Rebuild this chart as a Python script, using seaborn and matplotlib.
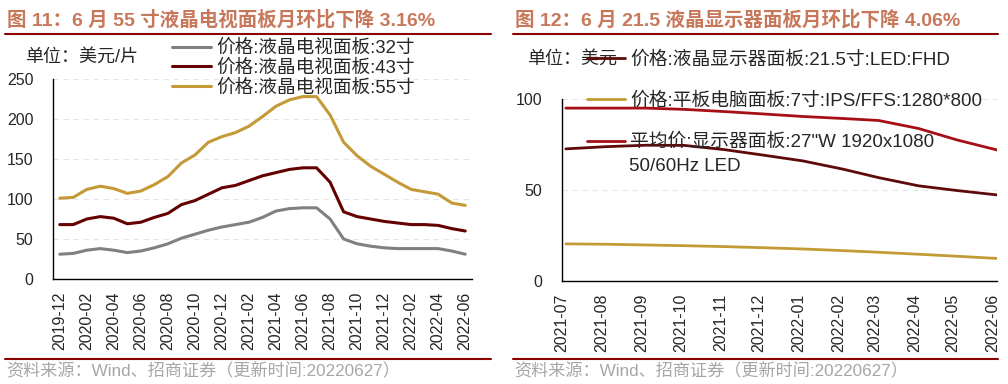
import numpy as np
import pandas as pd
import matplotlib
matplotlib.use('Agg')
import matplotlib.pyplot as plt
import matplotlib.dates as mdates
from matplotlib.lines import Line2D
import seaborn as sns

# ----------------------------
# Data: TV panels (USD / pc), monthly 2019-12 .. 2022-06
# ----------------------------
tv_months = pd.period_range('2019-12', '2022-06', freq='M').strftime('%Y-%m').tolist()
tv_32 = [31, 32, 36, 38, 36, 33, 35, 39, 44, 51, 56, 61, 65, 68, 71, 77,
         85, 88, 89, 89, 75, 50, 44, 41, 39, 38, 38, 38, 38, 35, 31]
tv_43 = [68, 68, 75, 78, 76, 69, 71, 77, 82, 93, 98, 106, 114, 117, 123, 129,
         133, 137, 139, 139, 121, 84, 78, 75, 72, 70, 68, 68, 67, 63, 60]
tv_55 = [101, 102, 112, 116, 113, 107, 110, 118, 128, 145, 155, 171, 178, 183, 191, 203,
         216, 224, 228, 228, 205, 171, 154, 141, 131, 121, 112, 109, 106, 95, 92]
tv_labels = ['价格:液晶电视面板:32寸', '价格:液晶电视面板:43寸', '价格:液晶电视面板:55寸']

# ----------------------------
# Data: monitor / tablet panels (USD / pc), 2021-07 .. 2022-06
# ----------------------------
mon_dates = ['2021-07-04', '2021-08-04', '2021-09-04', '2021-10-04', '2021-11-04', '2021-12-04',
             '2022-01-04', '2022-02-04', '2022-03-04', '2022-04-04', '2022-05-04', '2022-06-04']
mon_215 = [72.6, 73.8, 74.6, 74.5, 72.2, 69.2, 66.0, 61.5, 56.8, 52.3, 49.7, 47.3]
tab_7 = [20.4, 20.2, 19.8, 19.4, 18.9, 18.3, 17.6, 16.7, 15.8, 14.7, 13.6, 12.4]
mon_27 = [95.0, 95.0, 95.0, 94.3, 93.1, 91.8, 90.4, 89.3, 88.2, 83.8, 77.5, 72.0]
mon_labels = ['价格:液晶显示器面板:21.5寸:LED:FHD',
              '价格:平板电脑面板:7寸:IPS/FFS:1280*800',
              '平均价:显示器面板:27"W 1920x1080']

# ----------------------------
# Style
# ----------------------------
sns.set_style('white')
plt.rcParams['font.family'] = ['Liberation Sans', 'Noto Sans CJK SC']
plt.rcParams['axes.unicode_minus'] = False

TITLE_C = '#C8785A'
RULE_C = '#8B0000'
GRID_C = '#E6E6E6'

W, H = 1008, 384
fig = plt.figure(figsize=(W / 100, H / 100), dpi=100)


def fx(px):
    return px / W


def fy(py):
    return 1 - py / H


def style_axes(ax):
    for s in ['top', 'right']:
        ax.spines[s].set_visible(False)
    for s in ['left', 'bottom']:
        ax.spines[s].set_color('black')
        ax.spines[s].set_linewidth(1.0)
    ax.yaxis.grid(True, linestyle=(0, (5, 4)), color=GRID_C, linewidth=0.8)
    ax.xaxis.grid(False)
    ax.tick_params(axis='y', which='major', direction='out', length=4, width=1,
                   pad=10, labelsize=11.5, color='black')
    ax.tick_params(axis='x', which='major', direction='out', length=4, width=1,
                   pad=5, labelsize=11.5, color='black')
    ax.set_xlabel('')
    ax.set_ylabel('')


# ----------------------------
# Left chart
# ----------------------------
ax1 = fig.add_axes([fx(53), fy(279), fx(472) - fx(53), fy(79) - fy(279)])
df_tv = pd.DataFrame({'month': tv_months, 'pos': np.arange(len(tv_months)) + 0.5,
                      tv_labels[0]: tv_32, tv_labels[1]: tv_43, tv_labels[2]: tv_55})
for lab, col in zip(tv_labels, ['#808080', '#650000', '#C39A36']):
    sns.lineplot(data=df_tv, x='pos', y=lab, ax=ax1, color=col, linewidth=2.2, label=lab)

ax1.set_xlim(0, len(tv_months))
ax1.set_ylim(0, 250)
ax1.set_yticks([0, 50, 100, 150, 200, 250])
ax1.set_xticks(np.arange(0, len(tv_months), 2))
ax1.set_xticklabels([])
ax1.set_xticks(np.arange(0, len(tv_months), 2) + 0.5, minor=True)
ax1.set_xticklabels(tv_months[::2], minor=True, rotation=90)
style_axes(ax1)
ax1.tick_params(axis='x', which='minor', length=0, pad=9, labelsize=11.5)

ax1.legend(loc='upper left', bbox_to_anchor=(fx(172), fy(40)), bbox_transform=fig.transFigure,
           frameon=False, fontsize=13.4, handlelength=2.1, handletextpad=0.3,
           labelspacing=0.12, borderpad=0, borderaxespad=0)
ax1.text(fx(25), fy(57), '单位：美元/片', transform=fig.transFigure, fontsize=13,
         va='center', ha='left')

# ----------------------------
# Right chart
# ----------------------------
ax2 = fig.add_axes([fx(562), fy(281), fx(997) - fx(562), fy(99) - fy(281)])
df_mon = pd.DataFrame({'date': pd.to_datetime(mon_dates),
                       mon_labels[0]: mon_215, mon_labels[1]: tab_7, mon_labels[2]: mon_27})
for lab, col in zip(mon_labels, ['#5E0A0A', '#C39A36', '#A50F15']):
    sns.lineplot(data=df_mon, x='date', y=lab, ax=ax2, color=col, linewidth=2.0, label=lab)

ax2.set_xlim(pd.Timestamp('2021-07-01'), pd.Timestamp('2022-06-04'))
ax2.set_ylim(0, 100)
ax2.set_yticks([0, 50, 100])
ax2.xaxis.set_major_locator(mdates.MonthLocator())
ax2.xaxis.set_major_formatter(mdates.DateFormatter('%Y-%m'))
style_axes(ax2)
plt.setp(ax2.get_xticklabels(), rotation=90)

ax2.text(fx(527), fy(59), '单位：美元', transform=fig.transFigure, fontsize=13,
         va='center', ha='left')
leg2 = ax2.legend(loc='upper left', bbox_to_anchor=(fx(587), fy(51)), bbox_transform=fig.transFigure,
                  frameon=False, fontsize=13.5, handlelength=2.0, handletextpad=0.3,
                  labelspacing=1.28, borderpad=0, borderaxespad=0)
ax2.text(fx(629), fy(166), '50/60Hz LED', transform=fig.transFigure, fontsize=13.5,
         va='center', ha='left')

# ----------------------------
# Titles, rules, sources
# ----------------------------
fig.text(fx(7), fy(20), '图 11：6 月 55 寸液晶电视面板月环比下降 3.16%', fontsize=14,
         fontweight='bold', color=TITLE_C, va='center', ha='left')
fig.text(fx(515), fy(20), '图 12：6 月 21.5 液晶显示器面板月环比下降 4.06%', fontsize=14,
         fontweight='bold', color=TITLE_C, va='center', ha='left')

for x0, x1 in [(5, 491), (513, 998)]:
    fig.add_artist(Line2D([fx(x0), fx(x1)], [fy(34)] * 2, color=RULE_C, linewidth=1.5))
    fig.add_artist(Line2D([fx(x0), fx(x1)], [fy(358.5)] * 2, color=RULE_C, linewidth=1.5))

src = '资料来源：Wind、招商证券（更新时间:20220627）'
fig.text(fx(6), fy(371), src, fontsize=12.3, color='#A6A6A6', va='center', ha='left')
fig.text(fx(514), fy(371), src, fontsize=12.3, color='#A6A6A6', va='center', ha='left')

fig.savefig('out.png', dpi=100)
